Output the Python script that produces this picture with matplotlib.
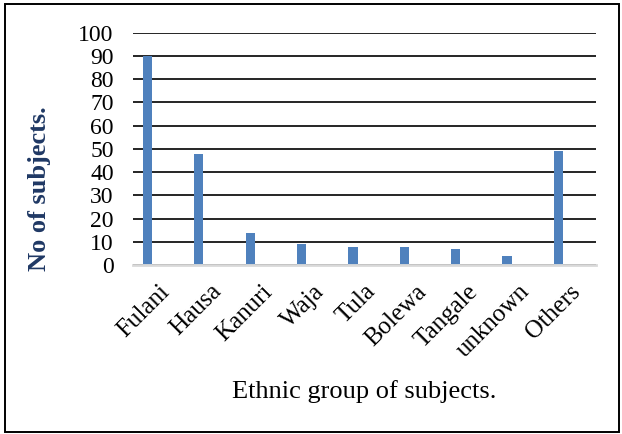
import matplotlib.pyplot as plt
from matplotlib.patches import Rectangle
from matplotlib.transforms import ScaledTranslation

groups = ["Fulani", "Hausa", "Kanuri", "Waja", "Tula", "Bolewa", "Tangale", "unknown", "Others"]
counts = [90, 48, 14, 9, 8, 8, 7, 4, 49]
yticks = [0, 10, 20, 30, 40, 50, 60, 70, 80, 90, 100]

plt.rcParams['font.family'] = ['Liberation Serif', 'DejaVu Serif']

fig = plt.figure(figsize=(6.22, 4.34), dpi=100)
ax = fig.add_axes([0.214, 0.389, 0.744, 0.5355])

x = range(len(groups))
ax.bar(x, counts, width=0.18, color='#4F81BD', zorder=3)

ax.set_xlim(-0.28, len(groups) - 1 + 0.73)
ax.set_ylim(0, 100)
ax.set_yticks(yticks)
ax.set_yticklabels([str(v) for v in yticks], fontsize=17)
ax.yaxis.grid(True, color='black', linewidth=1.2, zorder=0)
ax.set_axisbelow(True)
ax.tick_params(axis='y', length=0, pad=14)
ax.tick_params(axis='x', length=0, pad=11)

ax.set_xticks(list(x))
ax.set_xticklabels(groups, rotation=45, ha='right', rotation_mode='anchor', fontsize=18)
shift = ScaledTranslation(8 / 72, 0, fig.dpi_scale_trans)
for lab in ax.get_xticklabels():
    lab.set_transform(lab.get_transform() + shift)

for side in ['left', 'right', 'top']:
    ax.spines[side].set_visible(False)
ax.spines['bottom'].set_color('#D9D9D9')
ax.spines['bottom'].set_linewidth(2)
ax.spines['bottom'].set_zorder(4)

fig.text(0.586, 0.099, "Ethnic group of subjects.", ha='center', va='center', fontsize=19)
fig.text(0.063, 0.566, "No of subjects.", rotation=90, ha='center', va='center',
         fontsize=19, fontweight='bold', color='#1F3864')

fig.patches.append(Rectangle((0.008, 0.005), 0.987, 0.985, transform=fig.transFigure,
                             fill=False, edgecolor='black', linewidth=1.4))

fig.savefig('out.png', dpi=100)
